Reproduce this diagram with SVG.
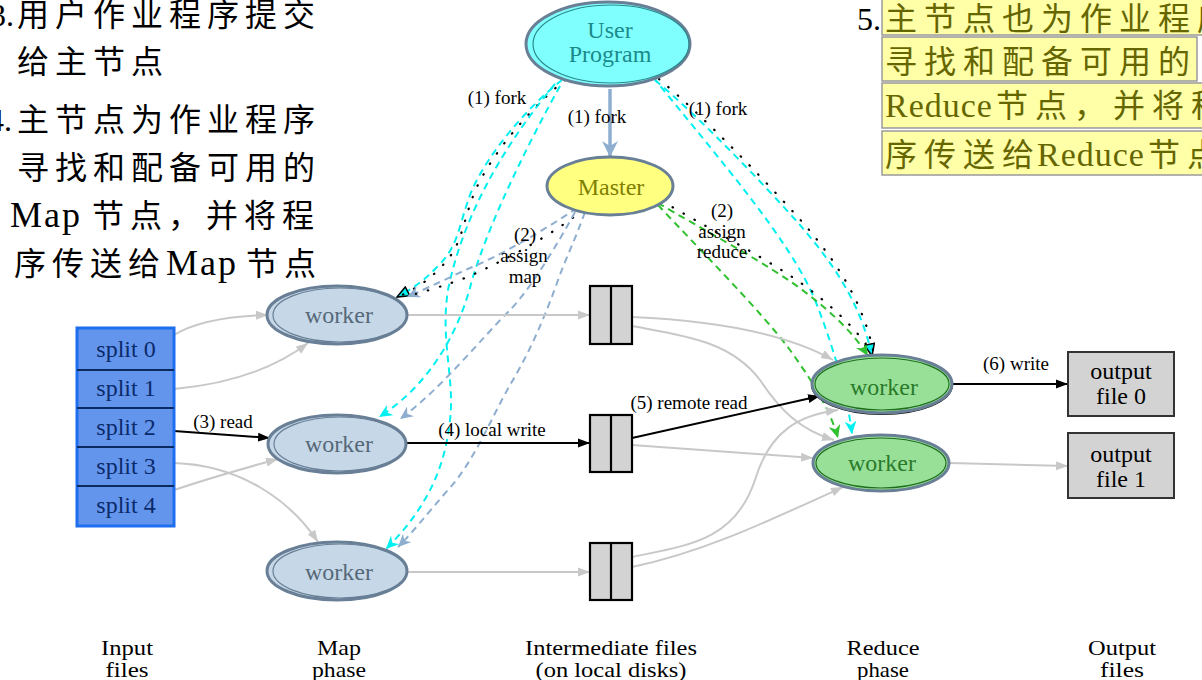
<svg xmlns="http://www.w3.org/2000/svg" width="1202" height="680" viewBox="0 0 1202 680">
<style>
.serif{font-family:"Liberation Serif","Times New Roman",serif}
.cjk{font-family:"Liberation Serif","Noto Sans CJK SC",serif;font-size:32px;letter-spacing:6px}
.lat{font-size:36px;letter-spacing:2px}
.nt{font-family:"Liberation Serif","Times New Roman",serif;font-size:24px;text-anchor:middle}
.et{font-family:"Liberation Serif","Times New Roman",serif;font-size:19px;text-anchor:middle;fill:#000}
.bt{font-family:"Liberation Serif","Times New Roman",serif;font-size:21px;text-anchor:middle;fill:#000}
.gray{fill:none;stroke:#c8c8c8;stroke-width:2}
.blk{fill:none;stroke:#000;stroke-width:2}
.cy{fill:none;stroke:#00f0f0;stroke-width:2;stroke-dasharray:7 5}
.sb{fill:none;stroke:#8eaed0;stroke-width:2;stroke-dasharray:7 5}
.gr{fill:none;stroke:#30c030;stroke-width:2;stroke-dasharray:7 5}
.dot{fill:none;stroke:#000;stroke-width:2.2;stroke-dasharray:0.5 12;stroke-linecap:round}
.mapw{fill:#c6d8e8;stroke:#687f96}
.redw{fill:#98e098;stroke:#687f96}
.box{fill:#ffffa8;stroke:#9a9a9a;stroke-width:1.5}
.file{fill:#d3d3d3;stroke:#000;stroke-width:2.2}
</style>
<defs>
<marker id="ag" markerWidth="13" markerHeight="10" refX="12" refY="5" orient="auto" markerUnits="userSpaceOnUse"><path d="M0,0.5 L12,5 L0,9.5 z" fill="#c8c8c8"/></marker>
<marker id="ab" markerWidth="13" markerHeight="10" refX="12" refY="5" orient="auto" markerUnits="userSpaceOnUse"><path d="M0,0.5 L12,5 L0,9.5 z" fill="#000"/></marker>
<marker id="vc" markerWidth="14" markerHeight="12" refX="13" refY="6" orient="auto" markerUnits="userSpaceOnUse"><path d="M0,0 L13,6 L0,12 L4,6 z" fill="#00f0f0"/></marker>
<marker id="vs" markerWidth="14" markerHeight="12" refX="13" refY="6" orient="auto" markerUnits="userSpaceOnUse"><path d="M0,0 L13,6 L0,12 L4,6 z" fill="#8eaed0"/></marker>
<marker id="vg" markerWidth="14" markerHeight="12" refX="13" refY="6" orient="auto" markerUnits="userSpaceOnUse"><path d="M0,0 L13,6 L0,12 L4,6 z" fill="#30c030"/></marker>
<marker id="vf" markerWidth="18" markerHeight="18" refX="16" refY="9" orient="auto" markerUnits="userSpaceOnUse"><path d="M0,1 L16,9 L0,17 L5,9 z" fill="#8eaed0"/></marker>
<marker id="tc" markerWidth="14" markerHeight="12" refX="13" refY="6" orient="auto" markerUnits="userSpaceOnUse"><path d="M1,1 L13,6 L1,11 z" fill="#00f0f0" stroke="#000" stroke-width="1.5"/></marker>
</defs>
<rect x="0" y="0" width="1202" height="680" fill="#fff"/>

<g id="text-left">
<text class="cjk" y="26"><tspan x="-10" style="letter-spacing:0">3.</tspan><tspan x="17">用户作业程序提交</tspan></text>
<text class="cjk" x="17" y="73">给主节点</text>
<text class="cjk" y="131"><tspan x="-12" style="letter-spacing:0">4.</tspan><tspan x="17">主节点为作业程序</tspan></text>
<text class="cjk" x="17" y="179">寻找和配备可用的</text>
<text class="cjk" y="227"><tspan x="10" class="lat">Map</tspan><tspan x="92">节点，并将程</tspan></text>
<text class="cjk" y="275"><tspan x="14">序传送给</tspan><tspan x="166" class="lat">Map</tspan><tspan x="246">节点</tspan></text>
</g>

<g id="text-right">
<rect class="box" x="882" y="-10" width="330" height="45"/>
<rect class="box" x="882" y="37" width="315" height="44"/>
<rect class="box" x="882" y="83" width="330" height="45"/>
<rect class="box" x="882" y="131" width="330" height="44"/>
<text class="serif" x="857" y="30" font-size="32" fill="#000">5.</text>
<text class="cjk" x="885" y="30" fill="#666600" style="letter-spacing:7px">主节点也为作业程序</text>
<text class="cjk" x="885" y="73" fill="#666600" style="letter-spacing:7px">寻找和配备可用的</text>
<text class="cjk" y="117" fill="#666600"><tspan x="885" style="letter-spacing:1px;font-size:34px">Reduce</tspan><tspan x="996" style="letter-spacing:7px">节点，并将程序</tspan></text>
<text class="cjk" y="166" fill="#666600"><tspan x="885" style="letter-spacing:7px">序传送给</tspan><tspan x="1037" style="letter-spacing:1px;font-size:34px">Reduce</tspan><tspan x="1148" style="letter-spacing:7px">节点</tspan></text>
</g>

<g id="connectors">
<path d="M610,89 L610,157" fill="none" stroke="#8eaed0" stroke-width="3.5" marker-end="url(#vf)"/>
<text class="et" x="597" y="123">(1) fork</text>
<path class="cy" d="M562,80 C530,105 490,150 472,190 C458,225 460,245 437,267 C425,280 412,289 397,297" marker-end="url(#tc)"/>
<path class="dot" d="M565,80 C533,106 493,151 475,191 C461,226 463,246 440,268 C428,281 415,289 400,296"/>
<path class="cy" d="M560,86 C530,140 490,220 472,280 C460,330 430,385 379,417" marker-end="url(#vc)"/>
<path class="cy" d="M555,84 C500,150 462,220 448,290 C440,340 455,380 450,420 C445,470 425,510 386,549" marker-end="url(#vc)"/>
<text class="et" x="497" y="104">(1) fork</text>
<path class="sb" d="M577,208 C540,233 497,257 470,268 C450,277 430,287 407,297" marker-end="url(#vs)"/>
<path class="dot" d="M583,210 C545,240 500,262 470,276 C450,284 430,290 412,295"/>
<path class="sb" d="M575,212 C560,240 530,290 510,310 C480,340 440,390 400,419" marker-end="url(#vs)"/>
<path class="sb" d="M585,212 C575,240 565,260 557,283 C540,330 525,360 510,385 C490,420 475,460 448,490 C430,510 415,530 398,547" marker-end="url(#vs)"/>
<text class="et" x="525" y="241">(2)</text>
<text class="et" x="524" y="262">assign</text>
<text class="et" x="525" y="283">map</text>
<path class="cy" d="M655,80 C700,118 760,180 800,225 C830,260 860,300 872,356" marker-end="url(#tc)"/>
<path class="dot" d="M659,79 C704,117 764,179 804,224 C834,259 862,299 873,350"/>
<path class="cy" d="M653,77 C720,160 790,240 815,300 C835,350 848,400 852,434" marker-end="url(#vc)"/>
<text class="et" x="718" y="115">(1) fork</text>
<path class="gr" d="M658,203 C700,228 770,265 805,292 C835,315 855,335 868,356" marker-end="url(#vg)"/>
<path class="dot" d="M662,201 C704,226 774,262 809,289 C839,312 858,332 870,350"/>
<path class="gr" d="M658,205 C700,250 760,310 790,350 C815,385 830,410 838,438" marker-end="url(#vg)"/>
<text class="et" x="722" y="217">(2)</text>
<text class="et" x="722" y="238">assign</text>
<text class="et" x="722" y="258">reduce</text>
<path class="gray" d="M174,335 C195,322 230,316 268,315" marker-end="url(#ag)"/>
<path class="gray" d="M174,389 C230,384 275,368 308,343" marker-end="url(#ag)"/>
<path class="blk" d="M174,431 L270,438" marker-end="url(#ab)"/>
<text class="et" x="223" y="428">(3) read</text>
<path class="gray" d="M174,463 C240,465 290,500 318,542" marker-end="url(#ag)"/>
<path class="gray" d="M174,490 C210,478 245,468 278,459" marker-end="url(#ag)"/>
<path class="gray" d="M407,315 L590,315" marker-end="url(#ag)"/>
<path class="blk" d="M406,443 L590,443" marker-end="url(#ab)"/>
<text class="et" x="492" y="436">(4) local write</text>
<path class="gray" d="M406,572 L590,572" marker-end="url(#ag)"/>
<path class="gray" d="M632,317 C700,320 780,330 833,360" marker-end="url(#ag)"/>
<path class="gray" d="M632,326 C680,335 730,340 760,380 C780,410 800,430 834,440" marker-end="url(#ag)"/>
<path class="blk" d="M632,438 L820,396" marker-end="url(#ab)"/>
<text class="et" x="689" y="409">(5) remote read</text>
<path class="gray" d="M632,445 L813,458" marker-end="url(#ag)"/>
<path class="gray" d="M632,557 C690,545 735,540 755,480 C770,430 800,415 838,410" marker-end="url(#ag)"/>
<path class="gray" d="M632,567 C700,553 760,525 843,487" marker-end="url(#ag)"/>
<path class="blk" d="M952,384 L1068,384" marker-end="url(#ab)"/>
<text class="et" x="1016" y="370">(6) write</text>
<path class="gray" d="M950,463 L1068,466" marker-end="url(#ag)"/>
</g>

<g id="user-program">
<ellipse cx="608" cy="44" rx="82" ry="42" fill="#80ffff" stroke="#687f96" stroke-width="3"/>
<ellipse cx="611" cy="44" rx="78" ry="39" fill="none" stroke="#2a8a8a" stroke-width="1.2"/>
<text class="nt" x="610" y="38" fill="#1a8a8a">User</text>
<text class="nt" x="610" y="62" fill="#1a8a8a">Program</text>
</g>

<g id="master">
<ellipse cx="610" cy="186" rx="63" ry="29" fill="#ffff80" stroke="#687f96" stroke-width="3"/>
<text class="nt" x="611" y="195" fill="#808000">Master</text>
</g>

<g id="splits">
<rect x="77" y="328" width="97" height="198" fill="#6495ed" stroke="#1e6ef0" stroke-width="3"/>
<path d="M77,370 H174 M77,408 H174 M77,447 H174 M77,486 H174" stroke="#0a2a60" stroke-width="2"/>
<text class="nt" x="126" y="357" fill="#0a2a6a">split 0</text>
<text class="nt" x="126" y="396" fill="#0a2a6a">split 1</text>
<text class="nt" x="126" y="435" fill="#0a2a6a">split 2</text>
<text class="nt" x="126" y="474" fill="#0a2a6a">split 3</text>
<text class="nt" x="126" y="513" fill="#0a2a6a">split 4</text>
</g>

<g id="map-worker-0">
<ellipse class="mapw" cx="337" cy="315" rx="70" ry="29" stroke-width="3"/>
<ellipse cx="340" cy="315" rx="67" ry="27" fill="none" stroke="#687f96" stroke-width="1.2"/>
<text class="nt" x="339" y="323" fill="#566878">worker</text>
</g>
<g id="map-worker-1">
<ellipse class="mapw" cx="337" cy="444" rx="69" ry="29" stroke-width="3"/>
<ellipse cx="340" cy="444" rx="66" ry="27" fill="none" stroke="#687f96" stroke-width="1.2"/>
<text class="nt" x="339" y="452" fill="#566878">worker</text>
</g>
<g id="map-worker-2">
<ellipse class="mapw" cx="337" cy="571" rx="70" ry="29" stroke-width="3"/>
<ellipse cx="340" cy="571" rx="67" ry="27" fill="none" stroke="#687f96" stroke-width="1.2"/>
<text class="nt" x="339" y="580" fill="#566878">worker</text>
</g>

<g id="intermediate-0">
<rect class="file" x="590" y="286" width="42" height="58"/>
<line x1="611" y1="286" x2="611" y2="344" stroke="#000" stroke-width="2.2"/>
</g>
<g id="intermediate-1">
<rect class="file" x="590" y="415" width="42" height="57"/>
<line x1="611" y1="415" x2="611" y2="472" stroke="#000" stroke-width="2.2"/>
</g>
<g id="intermediate-2">
<rect class="file" x="590" y="543" width="42" height="57"/>
<line x1="611" y1="543" x2="611" y2="600" stroke="#000" stroke-width="2.2"/>
</g>

<g id="reduce-worker-0">
<ellipse cx="882" cy="385" rx="70" ry="29" fill="none" stroke="#000" stroke-width="2"/>
<ellipse class="redw" cx="882" cy="384" rx="70" ry="29" stroke-width="3"/>
<ellipse cx="882" cy="384" rx="67" ry="26" fill="none" stroke="#1e6e1e" stroke-width="1.2"/>
<text class="nt" x="884" y="395" fill="#2a7a2a">worker</text>
</g>
<g id="reduce-worker-1">
<ellipse class="redw" cx="881" cy="463" rx="68" ry="28" stroke-width="3"/>
<ellipse cx="881" cy="463" rx="65" ry="25" fill="none" stroke="#1e6e1e" stroke-width="1.2"/>
<text class="nt" x="882" y="471" fill="#2a7a2a">worker</text>
</g>

<g id="output-0">
<rect x="1068" y="352" width="106" height="64" fill="#d3d3d3" stroke="#333" stroke-width="2"/>
<text class="nt" x="1121" y="379" fill="#000">output</text>
<text class="nt" x="1121" y="404" fill="#000">file 0</text>
</g>
<g id="output-1">
<rect x="1068" y="433" width="106" height="65" fill="#d3d3d3" stroke="#333" stroke-width="2"/>
<text class="nt" x="1121" y="462" fill="#000">output</text>
<text class="nt" x="1121" y="487" fill="#000">file 1</text>
</g>

<g id="phase-labels">
<text class="bt" x="127" y="655" textLength="52" lengthAdjust="spacingAndGlyphs">Input</text>
<text class="bt" x="127" y="677" textLength="43" lengthAdjust="spacingAndGlyphs">files</text>
<text class="bt" x="339" y="655" textLength="44" lengthAdjust="spacingAndGlyphs">Map</text>
<text class="bt" x="339" y="677" textLength="54" lengthAdjust="spacingAndGlyphs">phase</text>
<text class="bt" x="611" y="655" textLength="172" lengthAdjust="spacingAndGlyphs">Intermediate files</text>
<text class="bt" x="611" y="677" textLength="151" lengthAdjust="spacingAndGlyphs">(on local disks)</text>
<text class="bt" x="883" y="655" textLength="73" lengthAdjust="spacingAndGlyphs">Reduce</text>
<text class="bt" x="883" y="677" textLength="52" lengthAdjust="spacingAndGlyphs">phase</text>
<text class="bt" x="1122" y="655" textLength="68" lengthAdjust="spacingAndGlyphs">Output</text>
<text class="bt" x="1122" y="677" textLength="44" lengthAdjust="spacingAndGlyphs">files</text>
</g>
</svg>
